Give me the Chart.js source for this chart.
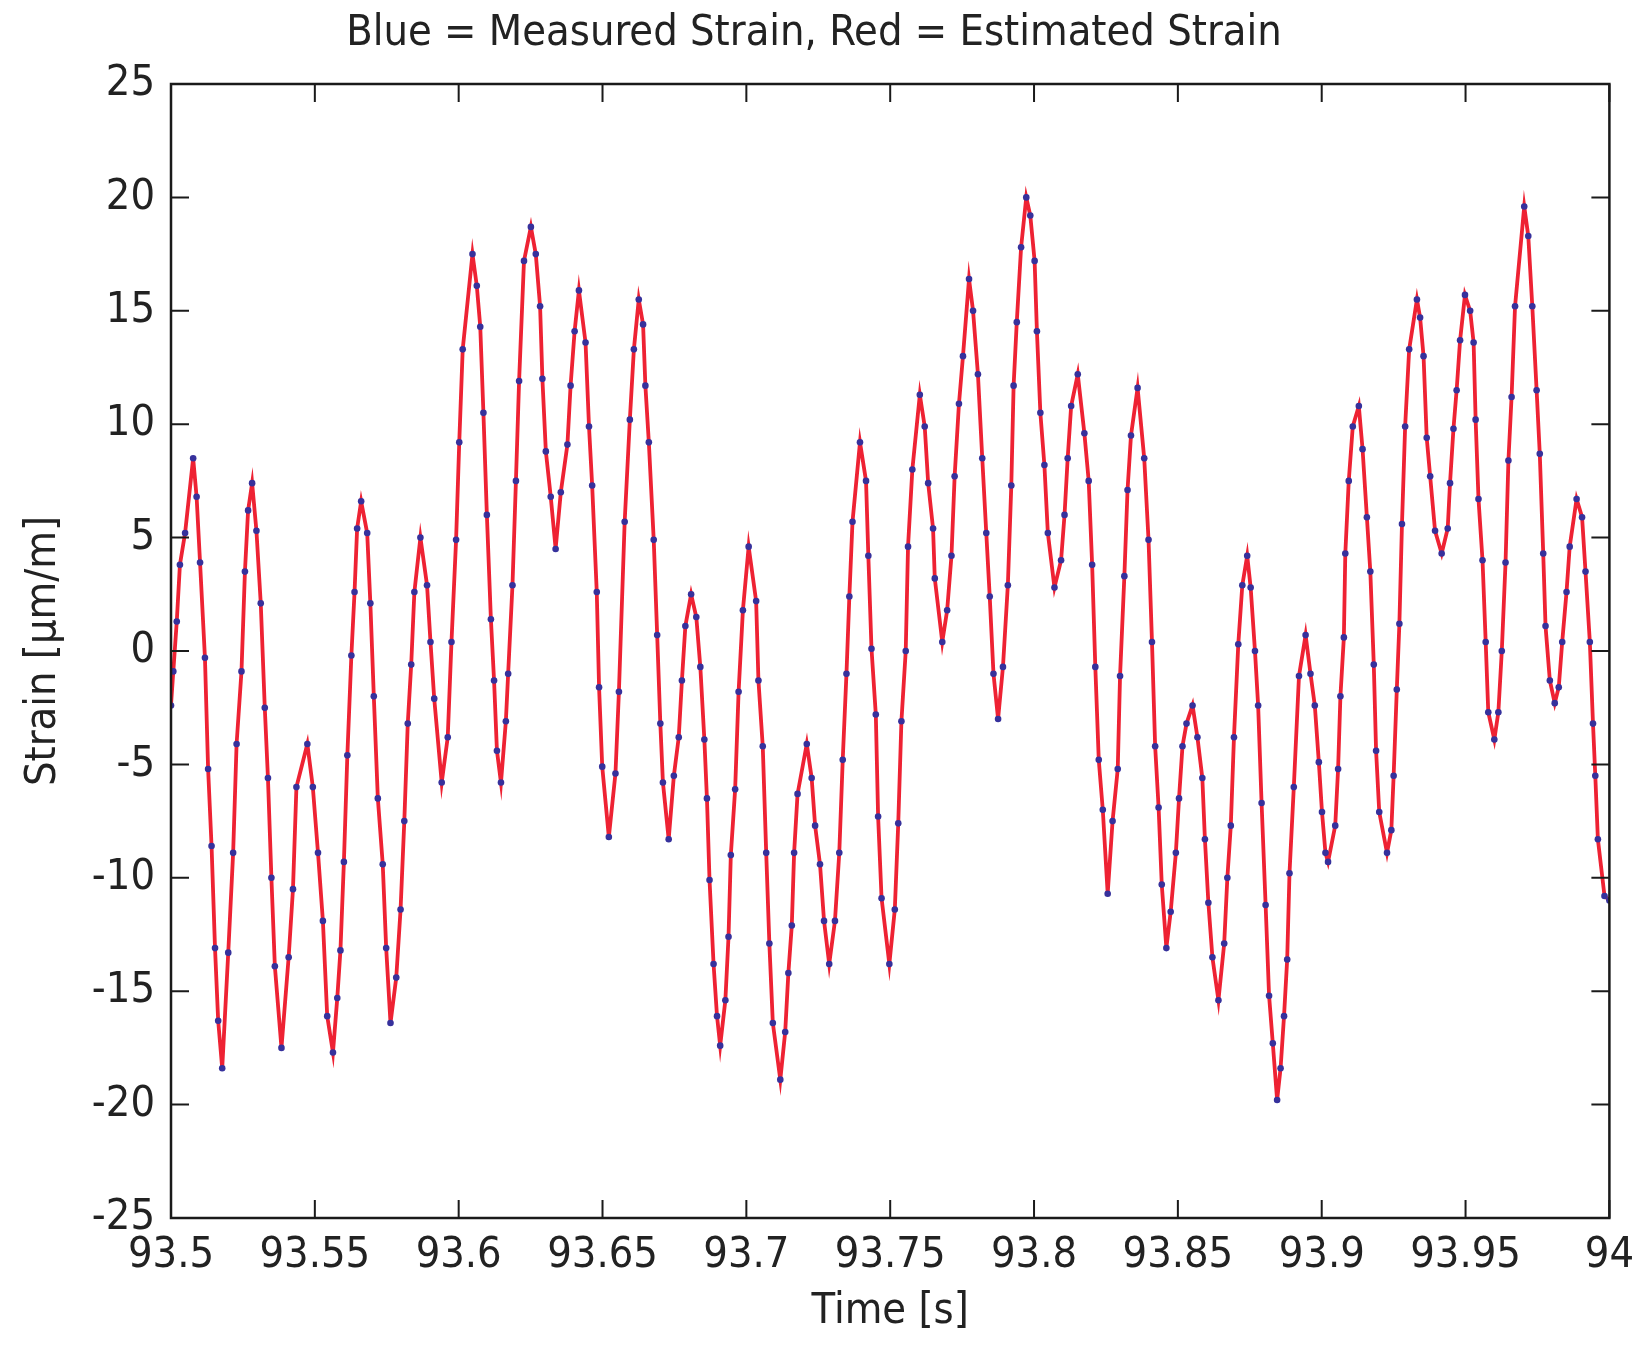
<!DOCTYPE html>
<html>
<head>
<meta charset="utf-8">
<script src="https://cdn.jsdelivr.net/npm/chart.js@4.4.1/dist/chart.umd.min.js"></script>
<style>
  html,body{margin:0;padding:0;background:#fff;}
  #wrap{width:1646px;height:1345px;}
</style>
</head>
<body>
<div id="wrap"><canvas id="strainChart" width="1646" height="1345"></canvas></div>
<script>
// values: time [s] and strain [um/m]
var time = [
93.5000,93.5008,93.5020,93.5031,93.5049,93.5077,93.5089,93.5101,93.5118,93.5129,93.5141,93.5153,93.5164,93.5178,
93.5199,93.5216,93.5228,93.5245,93.5257,93.5268,93.5282,93.5297,93.5312,93.5326,93.5337,93.5349,93.5361,93.5384,
93.5409,93.5424,93.5436,93.5474,93.5493,93.5511,93.5528,93.5543,93.5563,93.5578,93.5589,93.5601,93.5613,93.5627,
93.5638,93.5647,93.5661,93.5682,93.5693,93.5705,93.5719,93.5736,93.5748,93.5763,93.5783,93.5798,93.5811,93.5823,
93.5835,93.5846,93.5867,93.5890,93.5902,93.5915,93.5941,93.5962,93.5975,93.5991,93.6002,93.6014,93.6048,93.6063,
93.6075,93.6086,93.6098,93.6112,93.6123,93.6133,93.6147,93.6164,93.6172,93.6187,93.6199,93.6210,93.6227,93.6251,
93.6268,93.6283,93.6291,93.6303,93.6320,93.6337,93.6355,93.6378,93.6389,93.6403,93.6418,93.6441,93.6453,93.6464,
93.6480,93.6488,93.6499,93.6522,93.6545,93.6557,93.6577,93.6595,93.6609,93.6626,93.6641,93.6649,93.6661,93.6678,
93.6690,93.6701,93.6710,93.6730,93.6748,93.6765,93.6776,93.6788,93.6808,93.6826,93.6840,93.6854,93.6863,93.6872,
93.6886,93.6898,93.6909,93.6927,93.6938,93.6946,93.6961,93.6973,93.6988,93.7008,93.7034,93.7042,93.7057,93.7069,
93.7080,93.7092,93.7118,93.7135,93.7146,93.7158,93.7166,93.7178,93.7210,93.7227,93.7239,93.7256,93.7270,93.7288,
93.7308,93.7323,93.7335,93.7348,93.7358,93.7369,93.7395,93.7416,93.7424,93.7435,93.7450,93.7458,93.7470,93.7497,
93.7516,93.7528,93.7539,93.7554,93.7562,93.7577,93.7603,93.7620,93.7632,93.7649,93.7655,93.7681,93.7698,93.7713,
93.7724,93.7739,93.7753,93.7774,93.7788,93.7805,93.7820,93.7834,93.7846,93.7859,93.7875,93.7892,93.7909,93.7921,
93.7929,93.7940,93.7955,93.7973,93.7987,93.8002,93.8010,93.8022,93.8036,93.8048,93.8071,93.8094,93.8106,93.8117,
93.8129,93.8152,93.8175,93.8190,93.8202,93.8213,93.8225,93.8239,93.8256,93.8273,93.8291,93.8299,93.8314,93.8325,
93.8337,93.8360,93.8383,93.8398,93.8410,93.8421,93.8433,93.8444,93.8460,93.8475,93.8493,93.8504,93.8516,93.8530,
93.8551,93.8568,93.8585,93.8594,93.8606,93.8620,93.8641,93.8661,93.8672,93.8684,93.8695,93.8710,93.8724,93.8741,
93.8753,93.8768,93.8779,93.8791,93.8805,93.8817,93.8830,93.8845,93.8857,93.8869,93.8880,93.8888,93.8903,93.8921,
93.8944,93.8961,93.8976,93.8990,93.9001,93.9013,93.9022,93.9047,93.9057,93.9065,93.9077,93.9082,93.9094,93.9108,
93.9129,93.9142,93.9157,93.9169,93.9181,93.9189,93.9200,93.9227,93.9242,93.9250,93.9261,93.9270,93.9279,93.9290,
93.9304,93.9331,93.9342,93.9354,93.9365,93.9377,93.9394,93.9417,93.9438,93.9446,93.9458,93.9469,93.9481,93.9498,
93.9516,93.9528,93.9535,93.9545,93.9559,93.9570,93.9579,93.9600,93.9614,93.9626,93.9639,93.9649,93.9660,93.9672,
93.9704,93.9718,93.9732,93.9747,93.9758,93.9770,93.9778,93.9793,93.9810,93.9824,93.9836,93.9851,93.9862,93.9886,
93.9905,93.9917,93.9932,93.9943,93.9951,93.9960,93.9983,94.0000
];
var measured = [
-2.4,-0.9,1.3,3.8,5.2,8.5,6.8,3.9,-0.3,-5.2,-8.6,-13.1,-16.3,-18.4,
-13.3,-8.9,-4.1,-0.9,3.5,6.2,7.4,5.3,2.1,-2.5,-5.6,-10.0,-13.9,-17.5,
-13.5,-10.5,-6.0,-4.1,-6.0,-8.9,-11.9,-16.1,-17.7,-15.3,-13.2,-9.3,-4.6,-0.2,
2.6,5.4,6.6,5.2,2.1,-2.0,-6.5,-9.4,-13.1,-16.4,-14.4,-11.4,-7.5,-3.2,
-0.6,2.6,5.0,2.9,0.4,-2.1,-5.8,-3.8,0.4,4.9,9.2,13.3,17.5,16.1,
14.3,10.5,6.0,1.4,-1.3,-4.4,-5.8,-3.1,-1.0,2.9,7.5,11.9,17.2,18.7,
17.5,15.2,12.0,8.8,6.8,4.5,7.0,9.1,11.7,14.1,15.9,13.6,9.9,7.3,
2.6,-1.6,-5.1,-8.2,-5.4,-1.8,5.7,10.2,13.3,15.5,14.4,11.7,9.2,4.9,
0.7,-3.2,-5.8,-8.3,-5.5,-3.8,-1.3,1.1,2.5,1.5,-0.7,-3.9,-6.5,-10.1,
-13.8,-16.1,-17.4,-15.4,-12.6,-9.0,-6.1,-1.8,1.8,4.6,2.2,-1.3,-4.2,-8.9,
-12.9,-16.4,-18.9,-16.8,-14.2,-12.1,-8.9,-6.3,-4.1,-5.6,-7.7,-9.4,-11.9,-13.8,
-11.9,-8.9,-4.8,-1.0,2.4,5.7,9.2,7.5,4.2,0.1,-2.8,-7.3,-10.9,-13.8,
-11.4,-7.6,-3.1,0.0,4.6,8.0,11.3,9.9,7.4,5.4,3.2,0.4,1.8,4.2,
7.7,10.9,13.0,16.4,15.0,12.2,8.5,5.2,2.4,-1.0,-3.0,-0.7,2.9,7.3,
11.7,14.5,17.8,20.0,19.2,17.2,14.1,10.5,8.2,5.2,2.8,4.0,6.0,8.5,
10.8,12.2,9.6,7.5,3.8,-0.7,-4.8,-7.0,-10.7,-7.5,-5.2,-1.1,3.3,7.1,
9.5,11.6,8.5,4.9,0.4,-4.2,-6.9,-10.3,-13.1,-11.5,-8.9,-6.5,-4.2,-3.2,
-2.4,-3.8,-5.6,-8.3,-11.1,-13.5,-15.4,-12.9,-10.0,-7.7,-3.8,0.3,2.9,4.2,
2.8,0.0,-2.4,-6.7,-11.2,-15.2,-17.3,-19.8,-18.4,-16.1,-13.6,-9.8,-6.0,-1.1,
0.7,-1.0,-2.4,-4.9,-7.1,-8.9,-9.3,-7.7,-5.2,-2.0,0.6,4.3,7.5,9.9,
10.8,8.9,5.9,3.5,-0.6,-4.4,-7.1,-8.9,-7.9,-5.5,-1.7,1.2,5.6,9.9,
13.3,15.5,14.7,13.0,9.4,7.7,5.3,4.3,5.4,7.4,9.8,11.5,13.7,15.7,
15.0,13.6,10.2,6.7,4.0,0.4,-2.7,-3.9,-2.7,0.0,3.9,8.4,11.2,15.2,
19.6,18.3,15.2,11.5,8.7,4.3,1.1,-1.3,-2.3,-1.6,0.4,2.6,4.6,6.7,
5.9,3.5,0.4,-3.2,-5.5,-8.3,-10.8,-11.0
];
// the estimate sits on top of the measurement everywhere in the picture
var estimated = measured;
var xTicks = [93.5, 93.55, 93.6, 93.65, 93.7, 93.75, 93.8, 93.85, 93.9, 93.95, 94];
var yTicks = [-25, -20, -15, -10, -5, 0, 5, 10, 15, 20, 25];

var FONT = "'Liberation Sans Narrow', 'DejaVu Sans Condensed', 'Liberation Sans', Arial, sans-serif";
var INK = "#222";

function pts(vals) {
  var out = [];
  for (var i = 0; i < time.length; i++) out.push({x: time[i], y: vals[i]});
  return out;
}

// matlab style box with inward ticks on all four sides, plus the axis titles
var boxPlugin = {
  id: "box",
  afterDraw: function(chart) {
    var ctx = chart.ctx, a = chart.chartArea;
    var xs = chart.scales.x, ys = chart.scales.y;
    var len = 18;
    ctx.save();
    ctx.strokeStyle = "#1a1a1a";
    ctx.lineWidth = 2.5;
    ctx.strokeRect(a.left, a.top, a.right - a.left, a.bottom - a.top);
    ctx.lineWidth = 2;
    ctx.beginPath();
    xTicks.forEach(function(v) {
      var px = xs.getPixelForValue(v);
      ctx.moveTo(px, a.bottom); ctx.lineTo(px, a.bottom - len);
      ctx.moveTo(px, a.top); ctx.lineTo(px, a.top + len);
    });
    yTicks.forEach(function(v) {
      var py = ys.getPixelForValue(v);
      ctx.moveTo(a.left, py); ctx.lineTo(a.left + len, py);
      ctx.moveTo(a.right, py); ctx.lineTo(a.right - len, py);
    });
    ctx.stroke();

    ctx.fillStyle = INK;
    ctx.font = "43px " + FONT;
    ctx.textAlign = "center";
    ctx.textBaseline = "middle";
    ctx.fillText("Time [s]", (a.left + a.right) / 2, 1312);
    ctx.translate(44, (a.top + a.bottom) / 2);
    ctx.rotate(-Math.PI / 2);
    ctx.fillText("Strain [\u03bcm/m]", 0, 0);
    ctx.restore();
  }
};

new Chart(document.getElementById("strainChart"), {
  type: "line",
  data: {
    datasets: [
      {
        label: "Measured Strain",
        data: pts(measured),
        showLine: false,
        pointRadius: 3.3,
        pointBackgroundColor: "#36319c",
        pointBorderWidth: 0,
        order: 1
      },
      {
        label: "Estimated Strain",
        data: pts(estimated),
        borderColor: "#ee2233",
        borderWidth: 3.8,
        pointRadius: 0,
        tension: 0,
        fill: false,
        order: 2
      }
    ]
  },
  options: {
    responsive: false,
    animation: false,
    events: [],
    layout: {padding: {left: 0, right: 18, top: 0, bottom: 0}},
    plugins: {
      legend: {display: false},
      tooltip: {enabled: false},
      title: {
        display: true,
        text: "Blue = Measured Strain, Red = Estimated Strain",
        color: INK,
        font: {family: FONT, size: 43, weight: "normal", lineHeight: 1.2},
        padding: {top: 8, bottom: 24.4}
      }
    },
    scales: {
      x: {
        type: "linear",
        min: 93.5,
        max: 94,
        grid: {display: false, drawTicks: false},
        border: {display: false},
        afterBuildTicks: function(s) { s.ticks = xTicks.map(function(v) { return {value: v}; }); },
        afterFit: function(s) { s.height = 127; },
        ticks: {
          autoSkip: false,
          maxRotation: 0,
          padding: 12,
          color: INK,
          font: {family: FONT, size: 43},
          callback: function(v) { return String(Math.round(v * 100) / 100); }
        }
      },
      y: {
        min: -25,
        max: 25,
        grid: {display: false, drawTicks: false},
        border: {display: false},
        afterBuildTicks: function(s) { s.ticks = yTicks.map(function(v) { return {value: v}; }); },
        afterFit: function(s) { s.width = 171; },
        ticks: {
          autoSkip: false,
          padding: 16,
          color: INK,
          font: {family: FONT, size: 43}
        }
      }
    }
  },
  plugins: [boxPlugin]
});
</script>
</body>
</html>
